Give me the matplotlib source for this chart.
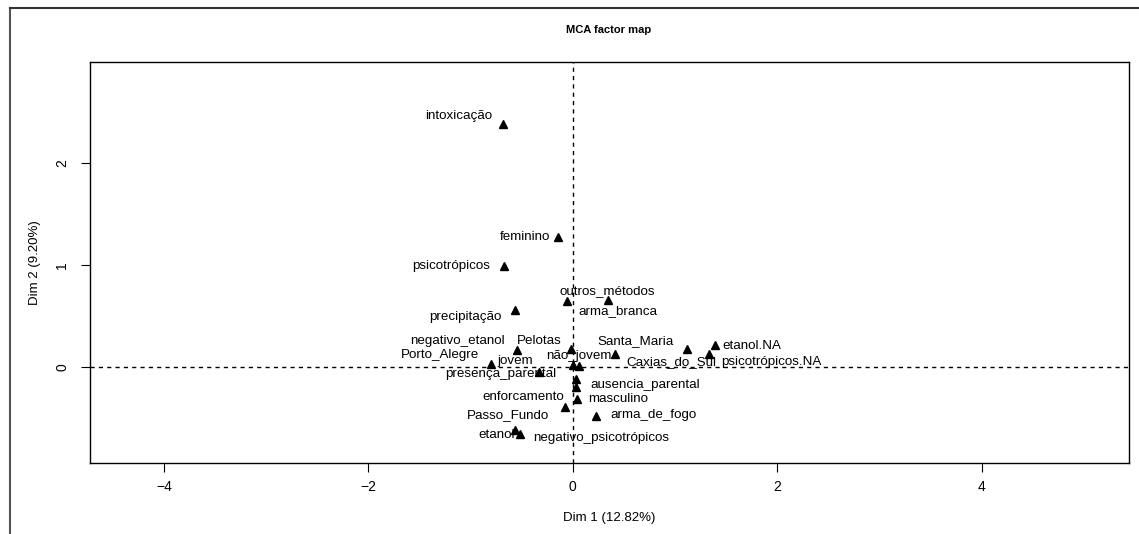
import matplotlib
matplotlib.use("Agg")
import matplotlib.pyplot as plt
from matplotlib.lines import Line2D

plt.rcParams['font.family'] = ['Liberation Sans', 'DejaVu Sans']

# category coordinates on Dim 1 / Dim 2
categories = ["intoxicação", "feminino", "psicotrópicos", "outros_métodos", "arma_branca",
              "precipitação", "negativo_etanol", "Pelotas", "Santa_Maria", "etanol.NA",
              "Porto_Alegre", "jovem", "não_jovem", "Caxias_do_Sul", "psicotrópicos.NA",
              "presença_parental", "ausencia_parental", "enforcamento", "masculino",
              "Passo_Fundo", "arma_de_fogo", "etanol", "negativo_psicotrópicos"]
dim1 = [-0.679, -0.141, -0.672, -0.059, 0.342,
        -0.568, -0.548, -0.020, 0.414, 1.392,
        -0.802, -0.330, 0.065, 1.115, 1.334,
        0.000, 0.032, -0.072, 0.039,
        0.032, 0.228, -0.568, -0.513]
dim2 = [2.384, 1.274, 0.992, 0.648, 0.658,
        0.560, 0.167, 0.177, 0.128, 0.216,
        0.027, -0.046, 0.013, 0.177, 0.128,
        0.020, -0.121, -0.390, -0.317,
        -0.199, -0.481, -0.619, -0.658]
# where the labels ended up (autoLab style)
lab_x = [-1.119, -0.467, -1.190, 0.333, 0.437,
         -1.047, -1.129, -0.330, 0.612, 1.751,
         -1.299, -0.565, 0.062, 0.968, 1.947,
         -0.704, 0.707, -0.489, 0.446,
         -0.636, 0.789, -0.744, 0.274]
lab_y = [2.468, 1.274, 0.996, 0.747, 0.553,
         0.488, 0.258, 0.255, 0.255, 0.206,
         0.121, 0.059, 0.108, 0.052, 0.052,
         -0.069, -0.177, -0.292, -0.317,
         -0.472, -0.472, -0.668, -0.701]

xticks = [-4, -2, 0, 2, 4]
yticks = [0, 1, 2]

fig = plt.figure(figsize=(11.39, 5.34), dpi=100)
ax = fig.add_axes([0.0786, 0.133, 0.9122, 0.751])

ax.axhline(0, color='black', lw=1, ls=(0, (3, 3)))
ax.axvline(0, color='black', lw=1, ls=(0, (3, 3)))
ax.plot(dim1, dim2, ls='none', marker='^', color='black', markersize=5.5)

for name, x, y in zip(categories, lab_x, lab_y):
    ax.text(x, y, name, ha='center', va='center', fontsize=9.6)

ax.set_xlim(-4.728, 5.438)
ax.set_ylim(-0.943, 2.996)
ax.set_xticks(xticks)
ax.set_xticklabels([str(t).replace('-', '\u2212') for t in xticks])
ax.set_yticks(yticks)
ax.set_yticklabels([str(t) for t in yticks], rotation=90, va='center')
ax.tick_params(direction='out', length=6.5, width=0.8, labelsize=10, pad=6)
ax.tick_params(axis='y', pad=8)
for s in ax.spines.values():
    s.set_linewidth(1)

ax.set_xlabel("Dim 1 (12.82%)", fontsize=9.5, labelpad=13)
ax.set_ylabel("Dim 2 (9.20%)", fontsize=9.5, labelpad=10)
ax.set_title("MCA factor map", fontsize=8, fontweight='bold', pad=21)

# outer frame of the device window
fig.add_artist(Line2D([10 / 1139, 10 / 1139], [0, 1 - 8 / 534], transform=fig.transFigure, color='#555555', lw=1.5))
fig.add_artist(Line2D([10 / 1139, 1], [1 - 8 / 534, 1 - 8 / 534], transform=fig.transFigure, color='#333333', lw=1.5))

plt.savefig("out.png", dpi=100)
